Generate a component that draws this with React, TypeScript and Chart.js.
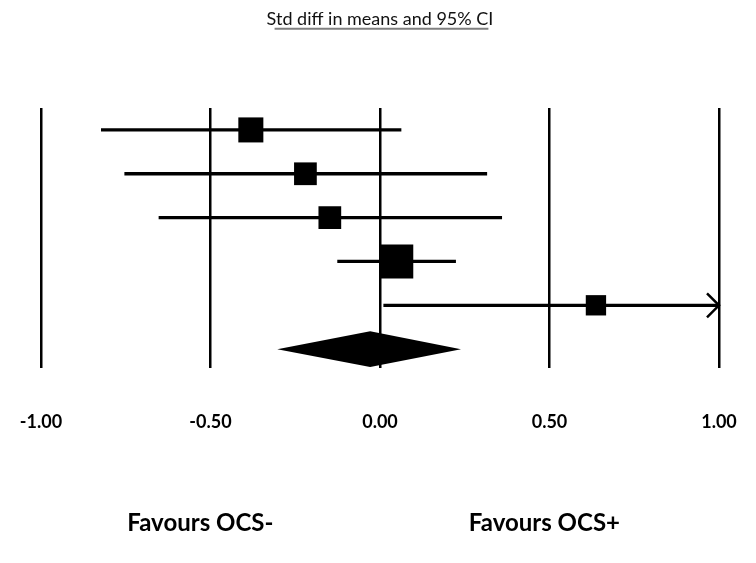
import { useEffect, useRef } from "react";
import { Chart, registerables } from "chart.js";

Chart.register(...registerables);

// Study-level standardized mean differences with 95% confidence limits
const effect = [-0.381, -0.22, -0.148, 0.048, 0.637];
const lower = [-0.823, -0.754, -0.653, -0.126, 0.01];
const upper = [0.063, 0.316, 0.36, 0.224, 1.26];
// Relative weights (%), box area is proportional to weight
const weight = [19.4, 16.0, 16.0, 35.8, 12.8];

// Pooled estimate
const pooledEffect = -0.029;
const pooledLower = -0.303;
const pooledUpper = 0.239;

const xTicks = [-1, -0.5, 0, 0.5, 1];
const titleText = "Std diff in means and 95% CI";
const favourLeft = "Favours OCS-";
const favourRight = "Favours OCS+";

const FONT = "Lato, 'Open Sans', sans-serif";
const MAX_BOX = 34; // side in px of the heaviest study's box
const DIAMOND_HALF = 0.41; // diamond half-height in row units
const pooledRow = effect.length;

const maxWeight = Math.max(...weight);
const boxRadius = weight.map((w) => (MAX_BOX * Math.sqrt(w / maxWeight)) / Math.SQRT2);

const forestExtras = {
  id: "forestExtras",
  afterDatasetsDraw(chart: any) {
    const { ctx, chartArea } = chart;
    const xs = chart.scales.x;
    const ys = chart.scales.y;
    ctx.save();

    // pooled diamond
    ctx.fillStyle = "#000";
    ctx.beginPath();
    ctx.moveTo(xs.getPixelForValue(pooledLower), ys.getPixelForValue(pooledRow));
    ctx.lineTo(xs.getPixelForValue(pooledEffect), ys.getPixelForValue(pooledRow - DIAMOND_HALF));
    ctx.lineTo(xs.getPixelForValue(pooledUpper), ys.getPixelForValue(pooledRow));
    ctx.lineTo(xs.getPixelForValue(pooledEffect), ys.getPixelForValue(pooledRow + DIAMOND_HALF));
    ctx.closePath();
    ctx.fill();

    // arrowheads for intervals running past the axis
    ctx.strokeStyle = "#000";
    ctx.lineWidth = 2.5;
    upper.forEach((u, i) => {
      if (u > xs.max) {
        const tx = chartArea.right;
        const ty = ys.getPixelForValue(i);
        ctx.beginPath();
        ctx.moveTo(tx - 12, ty - 12);
        ctx.lineTo(tx, ty);
        ctx.lineTo(tx - 12, ty + 12);
        ctx.stroke();
      }
    });
    ctx.restore();
  },
  afterDraw(chart: any) {
    const { ctx } = chart;
    const xs = chart.scales.x;
    ctx.save();

    // heading with underline
    const cx = xs.getPixelForValue(0);
    ctx.font = `18px ${FONT}`;
    ctx.fillStyle = "#111";
    ctx.textAlign = "center";
    ctx.textBaseline = "alphabetic";
    ctx.fillText(titleText, cx, 24.5);
    const w = ctx.measureText(titleText).width;
    ctx.strokeStyle = "#7f7f7f";
    ctx.lineWidth = 2;
    ctx.beginPath();
    ctx.moveTo(cx - w / 2 + 8, 28.7);
    ctx.lineTo(cx + w / 2 - 5, 28.7);
    ctx.stroke();

    // direction labels
    ctx.font = `bold 24px ${FONT}`;
    ctx.fillStyle = "#000";
    ctx.fillText(favourLeft, xs.getPixelForValue(-0.53), 531);
    ctx.fillText(favourRight, xs.getPixelForValue(0.485), 531);
    ctx.restore();
  },
};

export default function App() {
  const ref = useRef<HTMLCanvasElement | null>(null);

  useEffect(() => {
    if (!ref.current) return;

    const intervals = effect.map((_, i) => ({
      type: "line" as const,
      data: [
        { x: lower[i], y: i },
        { x: upper[i], y: i },
      ],
      borderColor: "#000",
      borderWidth: 3.3,
      pointRadius: 0,
      clip: 0,
      order: 1,
    }));

    const boxes = {
      type: "scatter" as const,
      data: effect.map((x, i) => ({ x, y: i })),
      pointStyle: "rect",
      pointRadius: boxRadius,
      pointHoverRadius: boxRadius,
      backgroundColor: "#000",
      borderColor: "#000",
      borderWidth: 0,
      order: 0,
    };

    const chart = new Chart(ref.current, {
      type: "scatter",
      data: { datasets: [boxes as any, ...intervals] },
      options: {
        animation: false,
        responsive: false,
        devicePixelRatio: 1,
        layout: { padding: { left: 41, right: 37, top: 108, bottom: 0 } },
        plugins: { legend: { display: false }, tooltip: { enabled: false } },
        scales: {
          x: {
            type: "linear",
            min: -1,
            max: 1,
            afterBuildTicks: (scale: any) => {
              scale.ticks = xTicks.map((v) => ({ value: v }));
            },
            afterFit: (scale: any) => {
              scale.height = 195;
              scale.paddingLeft = 0;
              scale.paddingRight = 0;
            },
            grid: { color: "#000", lineWidth: 2.5, drawTicks: false },
            border: { display: false },
            ticks: {
              padding: 43,
              color: "#000",
              font: { family: FONT, size: 18, weight: "bold" },
              callback: (v: any) => Number(v).toFixed(2),
            },
          },
          y: {
            type: "linear",
            min: -0.5,
            max: 5.43,
            reverse: true,
            display: false,
          },
        },
      },
      plugins: [forestExtras],
    });

    return () => chart.destroy();
  }, []);

  return (
    <div style={{ position: "absolute", left: 0, top: 0, width: 756, height: 563, background: "#fff" }}>
      <canvas ref={ref} width={756} height={563} />
    </div>
  );
}
